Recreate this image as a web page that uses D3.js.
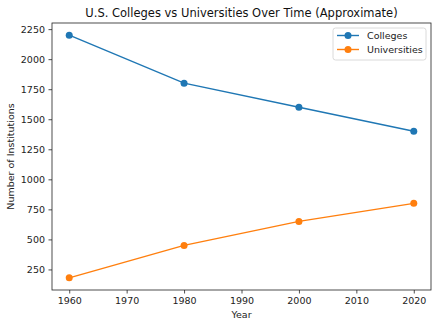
<!DOCTYPE html>
<html>
<head>
<meta charset="utf-8">
<script src="https://cdn.jsdelivr.net/npm/d3@7"></script>
<style>
  body { margin: 0; background: #fff; }
  svg { font-family: "DejaVu Sans", sans-serif; }
</style>
</head>
<body>
<div id="chart"></div>
<script>
const years = [1960, 1980, 2000, 2020]
const colleges = [2200, 1800, 1600, 1400]
const universities = [180, 450, 650, 800]
const xTicks = [1960, 1970, 1980, 1990, 2000, 2010, 2020]
const yTicks = [250, 500, 750, 1000, 1250, 1500, 1750, 2000, 2250]

const width = 438, height = 327
const margin = {top: 23, right: 7, bottom: 37, left: 52}

const series = [
    {name: 'Colleges', values: colleges, color: '#1f77b4'},
    {name: 'Universities', values: universities, color: '#ff7f0e'}
]

const svg = d3.select('#chart')
    .append('svg')
    .attr('width', width)
    .attr('height', height)

// matplotlib-style 5% padding around the data
const allVals = colleges.concat(universities)
const yMin = d3.min(allVals), yMax = d3.max(allVals)
const yPad = (yMax - yMin) * 0.05
const xPad = (d3.max(years) - d3.min(years)) * 0.05

const x = d3.scaleLinear()
    .domain([d3.min(years) - xPad, d3.max(years) + xPad])
    .range([margin.left, width - margin.right])
const y = d3.scaleLinear()
    .domain([yMin - yPad, yMax + yPad])
    .range([height - margin.bottom, margin.top])

const xAxis = svg.append('g')
    .attr('transform', `translate(0, ${height - margin.bottom})`)
    .call(d3.axisBottom(x).tickValues(xTicks).tickFormat(d3.format('d')).tickSizeOuter(0).tickSize(3.5).tickPadding(3.5))
const yAxis = svg.append('g')
    .attr('transform', `translate(${margin.left}, 0)`)
    .call(d3.axisLeft(y).tickValues(yTicks).tickFormat(d3.format('d')).tickSizeOuter(0).tickSize(3.5).tickPadding(3.5))

for (const ax of [xAxis, yAxis]) {
    ax.select('.domain').remove()
    ax.selectAll('text').attr('font-size', '9.5px').attr('fill', '#222').attr('font-family', '"DejaVu Sans", sans-serif')
    ax.selectAll('line').attr('stroke', '#222').attr('stroke-width', 0.8)
}

// frame
svg.append('rect')
    .attr('x', margin.left)
    .attr('y', margin.top)
    .attr('width', width - margin.left - margin.right)
    .attr('height', height - margin.top - margin.bottom)
    .attr('fill', 'none')
    .attr('stroke', '#222')
    .attr('stroke-width', 0.8)

const line = d3.line()
    .x((d, i) => x(years[i]))
    .y(d => y(d))

for (const s of series) {
    svg.append('path')
        .datum(s.values)
        .attr('d', line)
        .attr('fill', 'none')
        .attr('stroke', s.color)
        .attr('stroke-width', 1.4)
    svg.selectAll(null)
        .data(s.values)
        .enter()
        .append('circle')
        .attr('cx', (d, i) => x(years[i]))
        .attr('cy', d => y(d))
        .attr('r', 3.5)
        .attr('fill', s.color)
}

svg.append('text')
    .attr('x', (margin.left + width - margin.right) / 2)
    .attr('y', 17)
    .attr('text-anchor', 'middle')
    .attr('font-size', '11.5px')
    .attr('fill', '#111')
    .text('U.S. Colleges vs Universities Over Time (Approximate)')

svg.append('text')
    .attr('x', (margin.left + width - margin.right) / 2)
    .attr('y', 318)
    .attr('text-anchor', 'middle')
    .attr('font-size', '9.5px')
    .attr('fill', '#222')
    .text('Year')

svg.append('text')
    .attr('transform', `translate(14, ${(margin.top + height - margin.bottom) / 2}) rotate(-90)`)
    .attr('text-anchor', 'middle')
    .attr('font-size', '9.5px')
    .attr('fill', '#222')
    .text('Number of Institutions')

// legend
const lg = svg.append('g').attr('transform', 'translate(333, 28)')
lg.append('rect')
    .attr('width', 93)
    .attr('height', 32)
    .attr('rx', 2.5)
    .attr('fill', '#fff')
    .attr('stroke', '#d0d0d0')
    .attr('stroke-width', 0.8)
const items = lg.selectAll('g.item')
    .data(series)
    .enter()
    .append('g')
    .attr('transform', (d, i) => `translate(4, ${7.5 + i * 14})`)
items.append('line')
    .attr('x1', 0).attr('x2', 22)
    .attr('stroke', d => d.color)
    .attr('stroke-width', 1.4)
items.append('circle')
    .attr('cx', 11)
    .attr('r', 3.5)
    .attr('fill', d => d.color)
items.append('text')
    .attr('x', 30)
    .attr('dy', '0.35em')
    .attr('font-size', '9.5px')
    .attr('fill', '#222')
    .text(d => d.name)
</script>
</body>
</html>
